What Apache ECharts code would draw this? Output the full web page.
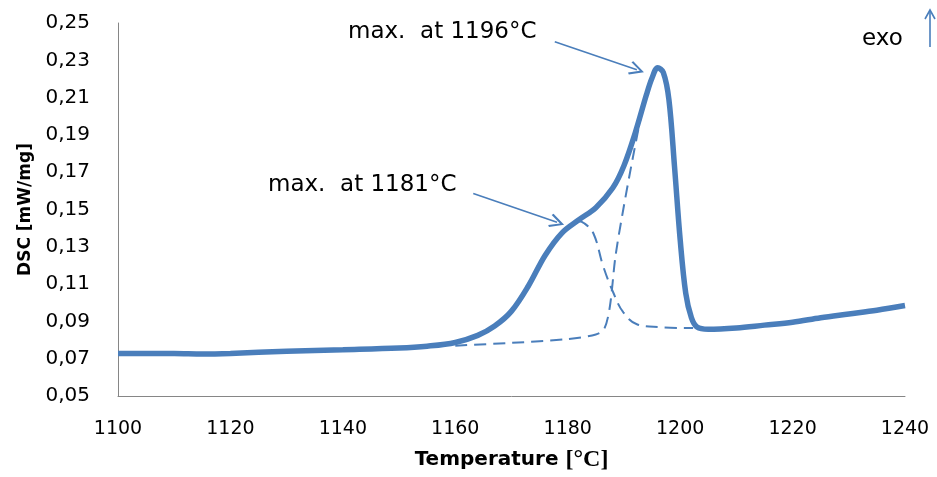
<!DOCTYPE html>
<html>
<head>
<meta charset="utf-8">
<script src="https://cdn.jsdelivr.net/npm/echarts@6/dist/echarts.min.js"></script>
<style>
  html, body { margin: 0; padding: 0; background: #fff; }
  #chart { width: 937px; height: 477px; }
</style>
</head>
<body>
<div id="chart"></div>
<script>
// measured DSC curve
const temps = [1100, 1110, 1115, 1120, 1130, 1140, 1150, 1155, 1160, 1164, 1167, 1170, 1173, 1176, 1179, 1182, 1185, 1188, 1190, 1192, 1194, 1195, 1196, 1197, 1198, 1199, 1200, 1201, 1202, 1203, 1205, 1210, 1215, 1220, 1225, 1230, 1235, 1240]
const dsc = [0.0728, 0.0728, 0.0725, 0.0728, 0.0740, 0.0748, 0.0757, 0.0767, 0.0787, 0.0825, 0.0875, 0.0955, 0.1090, 0.1255, 0.1375, 0.1445, 0.1510, 0.1615, 0.1735, 0.1910, 0.2115, 0.2205, 0.2260, 0.2235, 0.2090, 0.1730, 0.1340, 0.1050, 0.0920, 0.0870, 0.0858, 0.0865, 0.0880, 0.0895, 0.0920, 0.0940, 0.0960, 0.0985]

// deconvoluted peaks (dashed)
const peak2Temps = [1160, 1170, 1180, 1185, 1186.5, 1187.5, 1188.5, 1190, 1191.6, 1193.2, 1194.2]
const peak2Vals = [0.0770, 0.0785, 0.0805, 0.0830, 0.0860, 0.0980, 0.1250, 0.1520, 0.1780, 0.2020, 0.2130]
const peak1Temps = [1181.8, 1183, 1184.6, 1186.3, 1188.1, 1189.9, 1192.3, 1196.4, 1202.3]
const peak1Vals = [0.1440, 0.1425, 0.1370, 0.1197, 0.1055, 0.0948, 0.0885, 0.0869, 0.0864]

const yTicks = [0.05, 0.07, 0.09, 0.11, 0.13, 0.15, 0.17, 0.19, 0.21, 0.23, 0.25]

// annotation arrows [from, to] in data units
const arrow1196 = [[1177.7, 0.2399], [1192.3, 0.2249]]
const arrow1181 = [[1163.2, 0.1586], [1178.1, 0.1431]]

const zip = (xs, ys) => xs.map((x, i) => [x, ys[i]])

const blue = '#4a7ebb'
const font = 'DejaVu Sans'
const chevron = 'path://M5,0 L10,10 L8.8,11 L5,3.2 L1.2,11 L0,10 Z'

const chart = echarts.init(document.getElementById('chart'))

const option = {
  animation: false,
  grid: { left: 118, right: 32, top: 23, bottom: 80 },
  xAxis: {
    type: 'value',
    min: 1100,
    max: 1240,
    interval: 20,
    name: '{a|Temperature }{b|[°C]}',
    nameLocation: 'middle',
    nameGap: 52,
    nameTextStyle: {
      rich: {
        a: { fontFamily: font, fontWeight: 'bold', fontSize: 20, color: '#000' },
        b: { fontFamily: 'Liberation Serif', fontWeight: 'bold', fontSize: 24, color: '#000' }
      }
    },
    axisLine: { lineStyle: { color: '#868686', width: 1 } },
    axisTick: { show: false },
    splitLine: { show: false },
    axisLabel: {
      fontFamily: font,
      fontSize: 19,
      color: '#000',
      margin: 24,
      formatter: v => String(v)
    }
  },
  yAxis: {
    type: 'value',
    min: 0.05,
    max: 0.25,
    name: 'DSC [mW/mg]',
    nameLocation: 'middle',
    nameGap: 84,
    nameTextStyle: { fontFamily: font, fontWeight: 'bold', fontSize: 17, color: '#000' },
    axisLine: { show: true, lineStyle: { color: '#868686', width: 1 } },
    axisTick: { show: false },
    splitLine: { show: false },
    axisLabel: {
      fontFamily: font,
      fontSize: 20,
      color: '#000',
      margin: 28,
      customValues: yTicks,
      formatter: v => v.toFixed(2).replace('.', ',')
    }
  },
  series: [
    {
      type: 'line',
      data: zip(peak2Temps, peak2Vals),
      smooth: 0.3,
      symbol: 'none',
      lineStyle: { color: blue, width: 2, type: [12, 7] },
      silent: true
    },
    {
      type: 'line',
      data: zip(peak1Temps, peak1Vals),
      smooth: 0.4,
      symbol: 'none',
      lineStyle: { color: blue, width: 2, type: [12, 7] },
      silent: true
    },
    {
      type: 'line',
      data: zip(temps, dsc),
      smooth: 0.35,
      symbol: 'none',
      lineStyle: { color: blue, width: 5.5 },
      silent: true,
      markLine: {
        silent: true,
        symbol: ['none', chevron],
        symbolSize: [14, 15],
        lineStyle: { color: blue, width: 1.6, type: 'solid' },
        label: { show: false },
        emphasis: { disabled: true },
        data: [
          [{ coord: arrow1196[0] }, { coord: arrow1196[1] }],
          [{ coord: arrow1181[0] }, { coord: arrow1181[1] }]
        ]
      }
    }
  ],
  graphic: [
    {
      type: 'text', left: 348, top: 21,
      style: { text: 'max.  at 1196°C', font: '23px "DejaVu Sans"', fill: '#000' }
    },
    {
      type: 'text', left: 268, top: 174,
      style: { text: 'max.  at 1181°C', font: '23px "DejaVu Sans"', fill: '#000' }
    },
    {
      type: 'text', left: 862, top: 28,
      style: { text: 'exo', font: '23px "DejaVu Sans"', fill: '#000' }
    },
    {
      type: 'line',
      shape: { x1: 930, y1: 47, x2: 930, y2: 10 },
      style: { stroke: blue, lineWidth: 1.6 }
    },
    {
      type: 'polyline',
      shape: { points: [[925, 19], [930, 10], [935, 19]] },
      style: { stroke: blue, lineWidth: 1.6, fill: null }
    }
  ]
}

chart.setOption(option)
</script>
</body>
</html>
